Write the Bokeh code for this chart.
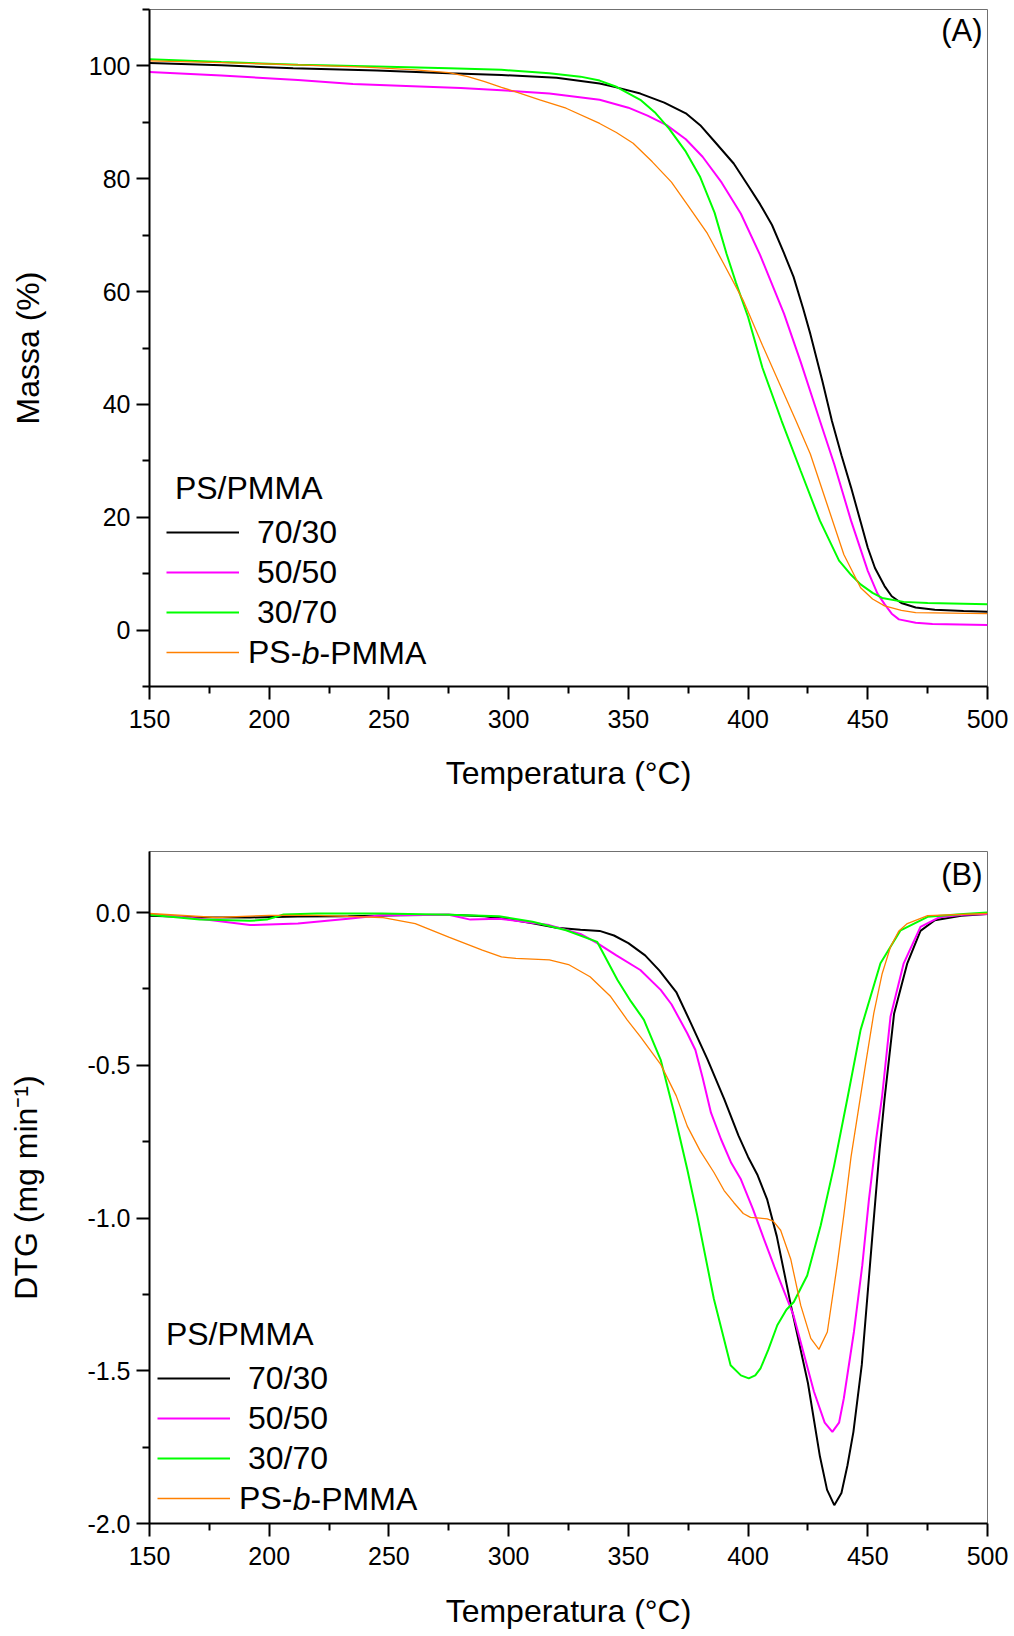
from bokeh.plotting import figure
from bokeh.models import Range1d, FixedTicker, Legend, LegendItem, Label
from bokeh.layouts import column
from bokeh.embed import file_html
from bokeh.resources import INLINE

FONT = "Liberation Sans"

# ---------------- data: TGA (mass %) ----------------
tga_t_7030 = [150, 180, 210, 245, 275, 297, 320, 338, 345, 355, 365, 374, 380, 386, 394, 400, 405, 410,
              415, 419, 423, 426, 431, 435, 439, 443, 447, 450, 453, 457, 460, 464, 470, 478, 490, 500]
tga_m_7030 = [100.5, 100.1, 99.6, 99.2, 98.7, 98.4, 97.9, 96.9, 96.2, 95.1, 93.5, 91.6, 89.5, 86.6, 82.7,
              78.8, 75.5, 71.8, 66.8, 62.6, 57.0, 52.5, 44.2, 37.1, 31.0, 25.3, 19.2, 14.6, 11.0, 7.8,
              6.0, 4.8, 4.0, 3.6, 3.4, 3.25]

tga_t_5050 = [150, 180, 212, 235, 260, 280, 297, 317, 338, 350, 358, 366, 374, 381, 389, 397, 405, 415,
              422, 430, 436, 443, 450, 454, 457, 460, 463, 470, 477, 500]
tga_m_5050 = [98.9, 98.3, 97.5, 96.8, 96.4, 96.1, 95.7, 95.1, 94.0, 92.6, 91.2, 89.5, 87.0, 83.9, 79.3,
              73.8, 66.5, 56.1, 47.5, 37.1, 29.4, 19.4, 10.5, 6.5, 4.6, 2.9, 1.9, 1.3, 1.1, 0.9]

tga_t_3070 = [150, 180, 212, 245, 275, 297, 317, 330, 338, 345, 355, 361, 367, 374, 380, 386, 391, 395,
              400, 406, 414, 422, 430, 438, 443, 447, 452, 456, 465, 475, 500]
tga_m_3070 = [101.2, 100.7, 100.2, 99.9, 99.6, 99.3, 98.7, 98.1, 97.4, 96.3, 94.0, 91.8, 88.9, 84.8,
              80.3, 74.0, 66.7, 61.5, 55.5, 46.5, 37.1, 28.2, 19.4, 12.3, 9.8, 8.1, 6.6, 5.7, 5.0, 4.8,
              4.6]

tga_t_bcp = [150, 180, 212, 240, 261, 275, 283, 290, 297, 303, 313, 324, 338, 345, 352, 360, 368, 375,
             383, 390, 398, 406, 415, 420, 426, 433, 440, 447, 452, 457, 464, 470, 500]
tga_m_bcp = [100.9, 100.6, 100.2, 99.8, 99.3, 98.8, 98.1, 97.2, 96.2, 95.4, 94.0, 92.5, 89.8, 88.2, 86.3,
             83.0, 79.4, 75.2, 70.3, 64.8, 58.4, 50.5, 41.9, 37.1, 31.2, 22.3, 13.4, 7.5, 5.5, 4.3, 3.5,
             3.1, 2.9]

# ---------------- data: DTG (mg/min) ----------------
dtg_t_7030 = [150, 170, 192, 212, 233, 255, 275, 290, 300, 310, 320, 330, 338, 344, 350, 357, 363, 370,
              376, 383, 390, 396, 400, 404, 408, 412, 418, 425, 430, 433, 436, 439, 441.5, 444, 447.5,
              452, 455, 457, 461, 466.5, 472, 478, 489, 500]
dtg_v_7030 = [-0.01, -0.015, -0.016, -0.013, -0.012, -0.009, -0.007, -0.012, -0.022, -0.035, -0.05,
              -0.056, -0.06, -0.075, -0.10, -0.14, -0.19, -0.26, -0.36, -0.48, -0.61, -0.73, -0.80,
              -0.86, -0.94, -1.06, -1.29, -1.54, -1.78, -1.89, -1.94, -1.90, -1.81, -1.70, -1.48,
              -1.05, -0.77, -0.61, -0.33, -0.166, -0.06, -0.025, -0.01, -0.005]

dtg_t_5050 = [150, 171, 192, 212, 233, 247, 275, 284, 296, 317, 330, 337, 345, 355, 363.5, 368, 374.6,
              378, 381, 384.5, 388.7, 393, 397, 402, 406.6, 411, 419, 427.5, 432, 435.2, 438, 440,
              444.2, 447.7, 450.5, 453.5, 456, 459.5, 465, 472, 480, 490, 500]
dtg_v_5050 = [-0.005, -0.02, -0.041, -0.036, -0.02, -0.009, -0.007, -0.023, -0.02, -0.041, -0.07, -0.10,
              -0.14, -0.188, -0.253, -0.30, -0.395, -0.45, -0.54, -0.655, -0.742, -0.82, -0.873, -0.97,
              -1.068, -1.16, -1.319, -1.568, -1.67, -1.70, -1.67, -1.59, -1.373, -1.155, -0.938,
              -0.742, -0.60, -0.34, -0.166, -0.047, -0.015, -0.007, -0.005]

dtg_t_3070 = [150, 171, 192, 199, 206, 220, 247, 275, 296, 310, 324, 337, 345.4, 351, 356.5, 363.5,
              369.1, 374.6, 378.8, 385.7, 392.7, 397, 400.3, 403, 405.2, 408.5, 412.2, 416, 419.1,
              424.7, 430.3, 435.9, 441.4, 447, 455.3, 463.7, 475, 490, 500]
dtg_v_3070 = [-0.007, -0.023, -0.027, -0.023, -0.006, -0.003, -0.003, -0.007, -0.012, -0.03, -0.058,
              -0.096, -0.22, -0.29, -0.351, -0.482, -0.655, -0.84, -0.993, -1.264, -1.482, -1.515,
              -1.525, -1.515, -1.492, -1.43, -1.351, -1.30, -1.275, -1.188, -1.025, -0.83, -0.612,
              -0.384, -0.166, -0.058, -0.014, -0.005, 0.0]

dtg_t_bcp = [150, 178, 200, 220, 247, 261, 275, 289, 297, 303, 317, 325, 334, 342.6, 349.5, 355, 363.5,
             370, 374.6, 380, 385.7, 390, 394, 398, 401, 405, 408, 410.5, 413.6, 417.8, 422, 426.2,
             429.6, 433.1, 437.2, 440, 443, 446, 449, 452.5, 456, 459.5, 463, 466.5, 475, 500]
dtg_v_bcp = [-0.003, -0.016, -0.009, -0.009, -0.016, -0.036, -0.08, -0.123, -0.145, -0.15, -0.155,
             -0.17, -0.21, -0.275, -0.351, -0.406, -0.497, -0.60, -0.699, -0.78, -0.85, -0.91, -0.949,
             -0.985, -0.998, -1.0, -1.003, -1.01, -1.04, -1.134, -1.286, -1.394, -1.43, -1.373,
             -1.155, -0.99, -0.80, -0.65, -0.50, -0.33, -0.20, -0.112, -0.06, -0.036, -0.01, -0.003]

# ---------------- ticks / labels ----------------
x_ticks = [150, 200, 250, 300, 350, 400, 450, 500]
x_tick_labels = ["150", "200", "250", "300", "350", "400", "450", "500"]
x_minor = [175, 225, 275, 325, 375, 425, 475]

y1_ticks = [0, 20, 40, 60, 80, 100]
y1_tick_labels = ["0", "20", "40", "60", "80", "100"]
y1_minor = [-10, 10, 30, 50, 70, 90, 110]

y2_ticks = [-2.0, -1.5, -1.0, -0.5, 0.0]
y2_tick_labels = ["-2.0", "-1.5", "-1.0", "-0.5", "0.0"]
y2_minor = [-1.75, -1.25, -0.75, -0.25]

series_names = ["\u00a070/30", "\u00a050/50", "\u00a030/70", "PS-"]
series_colors = ["#000000", "#FF00FF", "#00FF00", "#FF8000"]
series_widths = [2, 2, 2, 1.3]
legend_title = "\u00a0PS/PMMA"

X_LABEL = "Temperatura (\u00b0C)"


def style_axes(p, y_ticks, y_labels, y_minor, xlabel_standoff):
    p.xaxis.ticker = FixedTicker(ticks=x_ticks, minor_ticks=x_minor)
    p.xaxis.major_label_overrides = {float(t): s for t, s in zip(x_ticks, x_tick_labels)}
    p.yaxis.ticker = FixedTicker(ticks=y_ticks, minor_ticks=y_minor)
    p.yaxis.major_label_overrides = {float(t): s for t, s in zip(y_ticks, y_labels)}
    for ax in (p.xaxis[0], p.yaxis[0]):
        ax.axis_label_text_font = FONT
        ax.axis_label_text_font_size = "32px"
        ax.axis_label_text_font_style = "normal"
        ax.axis_label_text_color = "black"
        ax.major_label_text_font = FONT
        ax.major_label_text_font_size = "25px"
        ax.major_label_text_color = "black"
        ax.axis_line_color = "black"
        ax.axis_line_width = 2
        ax.major_tick_line_color = "black"
        ax.major_tick_line_width = 2
        ax.minor_tick_line_color = "black"
        ax.minor_tick_line_width = 2
        ax.major_tick_out = 13
        ax.major_tick_in = 0
        ax.minor_tick_out = 7
        ax.minor_tick_in = 0
    p.xaxis.major_label_standoff = 10
    p.yaxis.major_label_standoff = 6
    p.xaxis.axis_label_standoff = xlabel_standoff
    p.yaxis.axis_label_standoff = 40
    p.xgrid.visible = False
    p.ygrid.visible = False
    p.outline_line_color = "#707070"
    p.outline_line_width = 1


def add_legend(p, renderers, vx, vy):
    pad, gw, gh, lstand = 4, 73, 40, 9
    items = [LegendItem(label=n, renderers=[r]) for n, r in zip(series_names, renderers)]
    leg = Legend(items=items, location=(vx, vy), title=legend_title,
                 title_text_font=FONT, title_text_font_size="32px", title_text_font_style="normal",
                 title_text_color="black", title_standoff=5,
                 label_text_font=FONT, label_text_font_size="32px", label_text_color="black",
                 label_height=gh, glyph_height=gh, glyph_width=gw, label_standoff=lstand,
                 spacing=0, padding=pad, margin=0,
                 background_fill_alpha=0, border_line_alpha=0)
    p.add_layout(leg)
    x0 = vx + pad + gw + lstand + 53.3
    y0 = vy + pad + gh / 2
    p.add_layout(Label(x=x0, y=y0, x_units="screen", y_units="screen", text="b",
                       text_font=FONT, text_font_size="32px", text_font_style="italic",
                       text_baseline="middle", text_color="black"))
    p.add_layout(Label(x=x0 + 17.8, y=y0, x_units="screen", y_units="screen", text="-PMMA",
                       text_font=FONT, text_font_size="32px", text_font_style="normal",
                       text_baseline="middle", text_color="black"))


# ---------------- figure A (TGA) ----------------
p1 = figure(width=1010, height=850, output_backend="svg", toolbar_location=None,
            x_range=Range1d(150, 500), y_range=Range1d(-10, 110),
            min_border_left=149, min_border_right=23, min_border_top=9, min_border_bottom=164)
p1.xaxis.axis_label = X_LABEL
p1.yaxis.axis_label = "Massa (%)"
style_axes(p1, y1_ticks, y1_tick_labels, y1_minor, 24)

tga_sets = [(tga_t_7030, tga_m_7030), (tga_t_5050, tga_m_5050),
            (tga_t_3070, tga_m_3070), (tga_t_bcp, tga_m_bcp)]
r1 = []
for (xs, ys), c, w in zip(tga_sets, series_colors, series_widths):
    r1.append(p1.line(xs, ys, line_color=c, line_width=w))
add_legend(p1, r1, 13, 10)
p1.add_layout(Label(x=500, y=106.2, x_offset=-5, text="(A)", text_align="right",
                    text_baseline="alphabetic", text_font=FONT, text_font_size="31px",
                    text_color="black"))

# ---------------- figure B (DTG) ----------------
p2 = figure(width=1010, height=786, output_backend="svg", toolbar_location=None,
            x_range=Range1d(150, 500), y_range=Range1d(-2.0, 0.2),
            min_border_left=149, min_border_right=23, min_border_top=1, min_border_bottom=113)
p2.xaxis.axis_label = X_LABEL
p2.yaxis.axis_label = "DTG (mg min\u207b\u00b9)"
style_axes(p2, y2_ticks, y2_tick_labels, y2_minor, 25)

dtg_sets = [(dtg_t_7030, dtg_v_7030), (dtg_t_5050, dtg_v_5050),
            (dtg_t_3070, dtg_v_3070), (dtg_t_bcp, dtg_v_bcp)]
r2 = []
for (xs, ys), c, w in zip(dtg_sets, series_colors, series_widths):
    r2.append(p2.line(xs, ys, line_color=c, line_width=w))
add_legend(p2, r2, 4, 1)
p2.add_layout(Label(x=500, y=0.125, x_offset=-5, text="(B)", text_align="right",
                    text_baseline="alphabetic", text_font=FONT, text_font_size="31px",
                    text_color="black"))

layout = column(p1, p2, spacing=0)
open("out.html", "w").write(file_html(layout, INLINE))
